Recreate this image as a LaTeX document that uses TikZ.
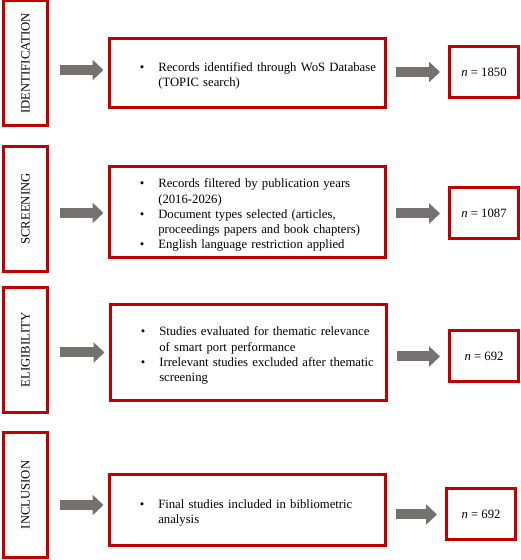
\documentclass[tikz,border=0pt]{standalone}
\usepackage{fontspec}
\setmainfont{Liberation Serif}
\usepackage{enumitem}
\usetikzlibrary{arrows.meta}
\definecolor{boxred}{HTML}{C00000}
\definecolor{arrowgray}{HTML}{767171}
\newlist{bullets}{itemize}{1}
\setlist[bullets]{label=\textbullet,leftmargin=48.8pt,labelsep=14pt,nosep,before=\raggedright}

\begin{document}
\begin{tikzpicture}[x=1pt,y=1pt,
	stagebox/.style={draw=boxred,line width=3pt,minimum width=44pt,minimum height=125pt,inner sep=0pt,font=\fontsize{12.7}{15.2}\selectfont},
	stepbox/.style={draw=boxred,line width=3pt,text width=276pt,inner xsep=0pt,inner ysep=0pt,font=\fontsize{12.7}{15.2}\selectfont},
	countbox/.style={draw=boxred,line width=3pt,minimum width=69pt,minimum height=51pt,inner sep=0pt,font=\fontsize{12.7}{15.2}\selectfont},
	fatarrow/.style={draw=arrowgray,line width=10pt,-{Triangle[length=11pt,width=20pt]}}]
	\useasboundingbox (0,0) rectangle (520,560);
	% identification
	\node[stagebox] (idstage) at (25.5,496.5) {\rotatebox{90}{IDENTIFICATION}};
	\node[stepbox,minimum height=69pt] (idstep) at (247.5,487) {\begin{bullets}
		\item Records identified through WoS Database\newline(TOPIC search)
	\end{bullets}};
	\node[countbox] (idcount) at (484,488) {\textit{n} = 1850};
	% screening
	\node[stagebox] (scstage) at (25.5,351) {\rotatebox{90}{SCREENING}};
	\node[stepbox,minimum height=91pt] (scstep) at (247.5,348) {\begin{bullets}
		\item Records filtered by publication years\newline(2016-2026)
		\item Document types selected (articles,\newline proceedings papers and book chapters)
		\item English language restriction applied
	\end{bullets}};
	\node[countbox] (sccount) at (484,346.5) {\textit{n} = 1087};
	% eligibility
	\node[stagebox] (elstage) at (25.5,210) {\rotatebox{90}{ELIGIBILITY}};
	\node[stepbox,minimum height=96pt] (elstep) at (248.5,207.5) {\begin{bullets}
		\item Studies evaluated for thematic relevance\newline of smart port performance
		\item Irrelevant studies excluded after thematic\newline screening
	\end{bullets}};
	\node[countbox] (elcount) at (484,203.5) {\textit{n} = 692};
	% inclusion
	\node[stagebox] (instage) at (25.5,65) {\rotatebox{90}{INCLUSION}};
	\node[stepbox,minimum height=71pt] (instep) at (247.5,50) {\begin{bullets}
		\item Final studies included in bibliometric\newline analysis
	\end{bullets}};
	\node[countbox] (incount) at (481,45.5) {\textit{n} = 692};
	% arrows
	\foreach \s/\b/\c/\d in {id/idstep/idcount/3,sc/scstep/sccount/-1,el/elstep/elcount/0,in/instep/incount/5}{
		\coordinate (\s l) at ([yshift=\d pt]\b.west);
		\draw[fatarrow,shorten <=10.5pt,shorten >=4.5pt] (\s l -| \s stage.east) -- (\s l);
		\draw[fatarrow,shorten <=9pt,shorten >=8pt] (\b.east |- \c.west) -- (\c.west);
	}
\end{tikzpicture}
\end{document}
